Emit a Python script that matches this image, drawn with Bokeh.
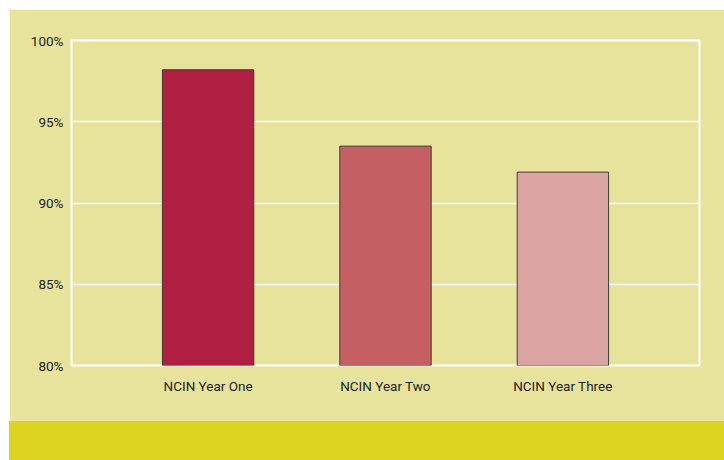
from bokeh.plotting import figure
from bokeh.models import FactorRange, Range1d, FixedTicker, PrintfTickFormatter, Div, ColumnDataSource
from bokeh.layouts import column
from bokeh.embed import file_html
from bokeh.resources import INLINE

categories = ["NCIN Year One", "NCIN Year Two", "NCIN Year Three"]
values = [98.2, 93.5, 91.9]
colors = ["#B01E42", "#C46064", "#DBA3A2"]
y_ticks = [80, 85, 90, 95, 100]

BG = "#E8E39C"
FONT = "Roboto"

src = ColumnDataSource(dict(cat=categories, val=values, color=colors))

p = figure(x_range=FactorRange(*categories, range_padding=0.18, range_padding_units="percent"),
           y_range=Range1d(80, 100),
           width=715, height=412, output_backend="svg", toolbar_location=None,
           background_fill_color=BG, border_fill_color=BG,
           min_border_left=62, min_border_top=31, min_border_right=25, min_border_bottom=56)
p.margin = (9, 0, 0, 9)

p.vbar(x="cat", top="val", bottom=80, width=0.515, fill_color="color",
       line_color="#3a3a3a", line_width=1, source=src)

p.outline_line_color = "#FFFFFF"
p.outline_line_width = 2
p.xgrid.grid_line_color = None
p.ygrid.grid_line_color = "#FFFFFF"
p.ygrid.grid_line_width = 1.5

p.yaxis.ticker = FixedTicker(ticks=y_ticks)
p.yaxis.formatter = PrintfTickFormatter(format="%d%%")
for ax in (p.xaxis, p.yaxis):
    ax.axis_line_color = None
    ax.major_tick_line_color = None
    ax.minor_tick_line_color = None
    ax.major_label_text_font = FONT
    ax.major_label_text_font_style = "normal"
    ax.major_label_text_font_size = "13.5px"
    ax.major_label_text_color = "#222222"
p.yaxis.major_label_standoff = 2
p.xaxis.major_label_standoff = 6

band = Div(width=715, height=39, margin=(0, 0, 0, 9),
           styles={"background-color": "#DCD420"})

layout = column(p, band, spacing=0)
open("out.html", "w").write(file_html(layout, INLINE))
